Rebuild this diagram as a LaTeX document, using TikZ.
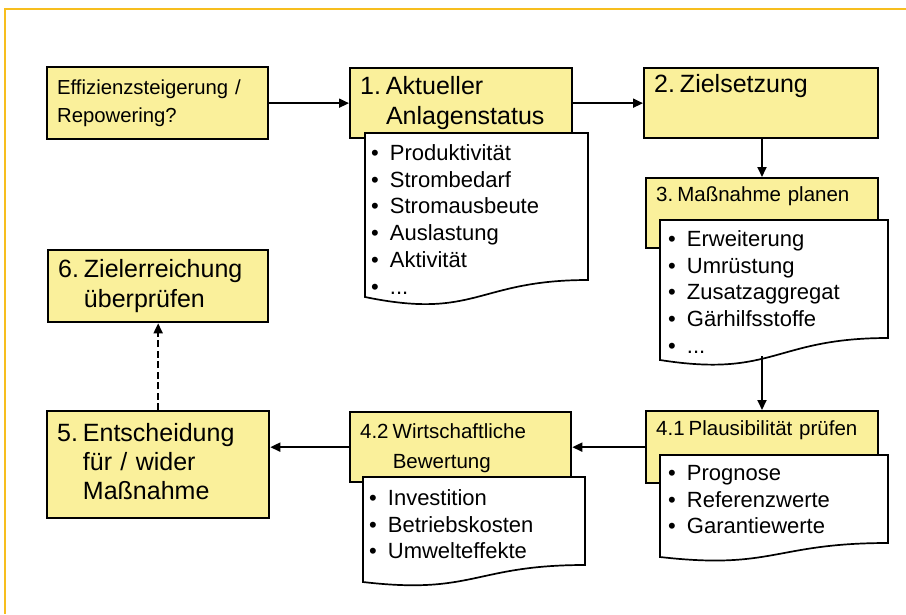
\documentclass[tikz,border=0pt]{standalone}
\usepackage{fontspec}
\setmainfont{Liberation Sans}
\usetikzlibrary{arrows.meta}
\definecolor{boxyellow}{RGB}{250,240,155}
\definecolor{frameorange}{RGB}{247,190,30}
\newcommand{\numgap}{\hspace{0.2em}}
\begin{document}
\begin{tikzpicture}[x=1pt,y=-1pt,
  box/.style={draw=black, line width=2.3pt, fill=boxyellow, rectangle, anchor=north west,
              inner xsep=10pt, inner ysep=0pt, align=left},
  bigtxt/.style={font=\fontsize{25}{30}\selectfont},
  midtxt/.style={font=\fontsize{20.5}{29}\selectfont},
  docshape/.style={draw=black, line width=1.7pt, fill=white},
  list/.style={anchor=north west, inner sep=0pt, align=left,
               font=\fontsize{22}{26.8}\selectfont},
  arr/.style={line width=1.8pt, -{Triangle[length=10pt,width=9pt]}}
]
\useasboundingbox (0,0) rectangle (906,614);
\fill[white] (0,0) rectangle (906,614);
% frame
\draw[frameorange, line width=2pt] (5,614) -- (5,9) -- (906,9);

% boxes
\node[box, font=\fontsize{20.3}{28}\selectfont, text width=201pt, minimum height=72pt] (be) at (46,66)
  {Effizienzsteigerung /\\Repowering?};
\node[box, bigtxt, text width=202pt, minimum height=70pt] (b1) at (349,67)
  {\begin{tabular}{@{}l@{\numgap}l@{}}1. & Aktueller\\ & Anlagenstatus\end{tabular}};
\node[box, bigtxt, text width=214pt, minimum height=70pt] (b2) at (643,67)
  {2.\numgap Zielsetzung\\\strut};
\node[box, midtxt, text width=212pt, minimum height=70pt] (b3) at (645,177)
  {3.\numgap Maßnahme planen\\\strut};
\node[box, midtxt, text width=212pt, minimum height=72pt] (b41) at (645,410)
  {4.1\numgap Plausibilität prüfen\\\strut};
\node[box, font=\fontsize{20.5}{30}\selectfont, text width=201pt, minimum height=70pt] (b42) at (349,411)
  {\begin{tabular}{@{}l@{\numgap}l@{}}4.2 & Wirtschaftliche\\ & Bewertung\end{tabular}};
\node[box, font=\fontsize{25}{29}\selectfont, text width=202pt, minimum height=107pt] (b5) at (46,410)
  {\begin{tabular}{@{}l@{\numgap}l@{}}5. & Entscheidung\\ & für / wider\\ & Maßnahme\end{tabular}};
\node[box, bigtxt, text width=200pt, minimum height=72pt] (b6) at (47,249)
  {\begin{tabular}{@{}l@{\numgap}l@{}}6. & Zielerreichung\\ & überprüfen\end{tabular}};

% documents
\path[docshape] (365,133) -- (588,133) -- (588,280)
  .. controls (476.5,280) and (476.5,320) .. (365,297) -- cycle;
\node[list] (l1) at (371,141.4) {\begin{tabular}{@{}l@{\hspace{11pt}}l@{}}
  • & Produktivität\\ • & Strombedarf\\ • & Stromausbeute\\ • & Auslastung\\ • & Aktivität\\ • & ...\end{tabular}};

\path[docshape] (660,220) -- (888,220) -- (888,338)
  .. controls (774,338) and (774,378) .. (660,360) -- cycle;
\node[list] (l3) at (668,227.4) {\begin{tabular}{@{}l@{\hspace{11pt}}l@{}}
  • & Erweiterung\\ • & Umrüstung\\ • & Zusatzaggregat\\ • & Gärhilfsstoffe\\ • & ...\end{tabular}};

\path[docshape] (660,455) -- (888,455) -- (888,543)
  .. controls (774,543) and (774,570) .. (660,557) -- cycle;
\node[list] (l41) at (668,461.4) {\begin{tabular}{@{}l@{\hspace{11pt}}l@{}}
  • & Prognose\\ • & Referenzwerte\\ • & Garantiewerte\end{tabular}};

\path[docshape] (363,477) -- (585,477) -- (585,565)
  .. controls (474,565) and (474,595) .. (363,582) -- cycle;
\node[list] (l42) at (369,486.4) {\begin{tabular}{@{}l@{\hspace{11pt}}l@{}}
  • & Investition\\ • & Betriebskosten\\ • & Umwelteffekte\end{tabular}};

% connectors
\coordinate (d3out) at (762,356);
\draw[arr] (be.east) -- (be.east -| b1.west);
\draw[arr] (b1.east) -- (b1.east -| b2.west);
\draw[arr] (b2.south -| d3out) -- (d3out |- b3.north);
\draw[arr] (d3out) -- (d3out |- b41.north);
\draw[arr] (b41.west) -- (b41.west -| b42.east);
\draw[arr] (b42.west) -- (b42.west -| b5.east);
\draw[arr, dash pattern=on 7pt off 3.5pt] (b5.north) -- (b5.north |- b6.south);
\end{tikzpicture}
\end{document}
